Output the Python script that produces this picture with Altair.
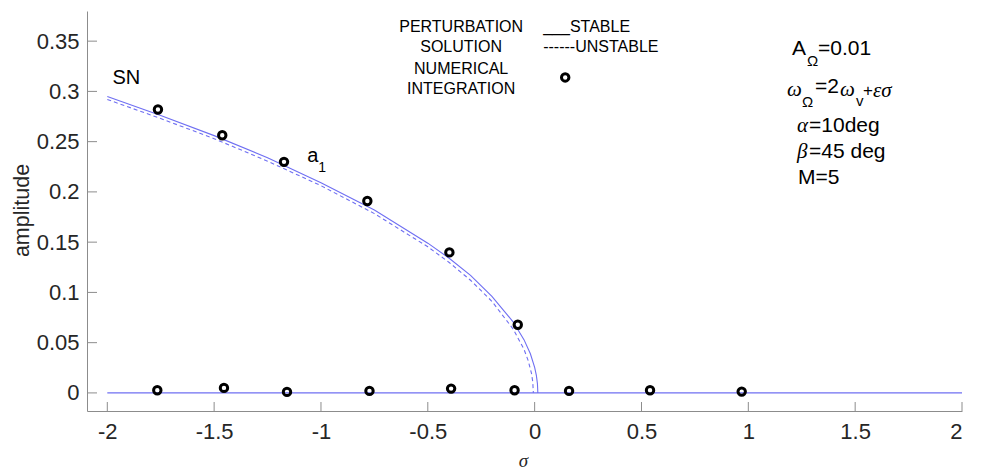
import altair as alt
import pandas as pd

# ---------------- data ----------------
x_ticks = [-2, -1.5, -1, -0.5, 0, 0.5, 1, 1.5, 2]
y_ticks = [0, 0.05, 0.1, 0.15, 0.2, 0.25, 0.3, 0.35]

# perturbation solution, upper branch (stable, solid)
stable_x = [-2.0, -1.75, -1.5, -1.25, -1.0, -0.75, -0.5, -0.4, -0.3, -0.2, -0.1,
            -0.05, -0.02, 0.0, 0.008, 0.013, 0.015]
stable_a = [0.295, 0.276, 0.256, 0.234, 0.209, 0.182, 0.149, 0.134, 0.117, 0.096,
            0.0705, 0.053, 0.039, 0.0254, 0.0174, 0.0093, 0.0]

# perturbation solution, upper branch (unstable, dashed)
unstable_x = [-2.0, -1.75, -1.5, -1.25, -1.0, -0.75, -0.5, -0.4, -0.3, -0.2, -0.1,
              -0.05, -0.03, -0.015, -0.009, -0.006]
unstable_a = [0.292, 0.273, 0.253, 0.2306, 0.2062, 0.1784, 0.1454, 0.1298, 0.1121,
              0.0911, 0.0634, 0.0434, 0.032, 0.0196, 0.0113, 0.0]

# trivial solution (solid)
zero_x = [-2.0, 2.0]
zero_a = [0.0, 0.0]

# numerical integration points
num_x = [-1.763, -1.462, -1.173, -0.783, -0.399, -0.079,
         -1.766, -1.454, -1.159, -0.773, -0.391, -0.094, 0.161, 0.540, 0.969]
num_a = [0.282, 0.2564, 0.2299, 0.191, 0.1398, 0.0678,
         0.0027, 0.005, 0.001, 0.002, 0.0043, 0.0027, 0.002, 0.0027, 0.0013]

# annotations (data coordinates)
sans_left_text = ["SN", "a", "1", "___STABLE", "------UNSTABLE",
                  "A", "Ω", "=0.01", "Ω", "=2", "v", "+",
                  "=10deg", "=45 deg", "M=5"]
sans_left_x = [-1.976, -1.064, -1.013, 0.040, 0.040,
               1.2047, 1.2749, 1.3263, 1.2515, 1.3123, 1.5041, 1.5368,
               1.2842, 1.2842, 1.2327]
sans_left_y = [0.3069, 0.2302, 0.2202, 0.3592, 0.3393,
               0.3358, 0.3248, 0.3358, 0.2840, 0.2989, 0.2850, 0.2959,
               0.2601, 0.2342, 0.2083]
sans_left_size = [20, 20, 14, 16, 16,
                  21, 15, 21, 15, 21, 15, 17,
                  21, 21, 21]

serif_text = ["ω", "ω", "εσ", "α", "β"]
serif_x = [1.1813, 1.4292, 1.5836, 1.2281, 1.2281]
serif_y = [0.2956, 0.2956, 0.2946, 0.2601, 0.2342]

legend_text = ["PERTURBATION", "SOLUTION", "NUMERICAL", "INTEGRATION"]
legend_x = [-0.344, -0.344, -0.344, -0.344]
legend_y = [0.3592, 0.3393, 0.3169, 0.2974]

legend_marker_x = [0.143]
legend_marker_y = [0.3139]

# ---------------- chart ----------------
X_DOMAIN = [-2.095, 2.0]
Y_DOMAIN = [-0.018, 0.38]
W, H = 875, 400
LINE = "#6f6ff2"
AXC = "#8c8c8c"
SANS = "Liberation Sans"
SERIF = "Liberation Serif"

xs = alt.Scale(domain=X_DOMAIN, nice=False, zero=False)
ys = alt.Scale(domain=Y_DOMAIN, nice=False, zero=False)

x_axis = alt.Axis(values=x_ticks, labelExpr="'' + datum.value", tickSize=0,
                  ticks=False, domainColor=AXC, domainWidth=1, grid=False,
                  labelFont=SANS, labelFontSize=22, labelColor="#262626",
                  labelPadding=10, title="σ", titleFont=SERIF,
                  titleFontStyle="italic", titleFontWeight="normal",
                  titleFontSize=19, titleColor="#262626",
                  titleX=436, titleY=55, titleAlign="center",
                  titleBaseline="alphabetic")
y_axis = alt.Axis(values=y_ticks, labelExpr="'' + datum.value", tickSize=0,
                  ticks=False, domainColor=AXC, domainWidth=1, grid=False,
                  labelFont=SANS, labelFontSize=22, labelColor="#262626",
                  labelPadding=8, title="amplitude", titleFont=SANS,
                  titleFontWeight="normal", titleFontSize=21.5,
                  titleColor="#262626", titleAngle=270,
                  titleX=-65, titleY=199, titleAlign="center",
                  titleBaseline="middle")

X = alt.X("x:Q", scale=xs, axis=x_axis)
Y = alt.Y("a:Q", scale=ys, axis=y_axis)

stable_df = pd.DataFrame({"x": stable_x, "a": stable_a})
unstable_df = pd.DataFrame({"x": unstable_x, "a": unstable_a})
zero_df = pd.DataFrame({"x": zero_x, "a": zero_a})
num_df = pd.DataFrame({"x": num_x, "a": num_a})

zero_line = alt.Chart(zero_df).mark_line(color=LINE, strokeWidth=1.1).encode(
    x=X, y=Y,
)
stable_line = alt.Chart(stable_df).mark_line(color=LINE, strokeWidth=1.1).encode(
    x=X, y=Y, order="x:Q",
)
unstable_line = alt.Chart(unstable_df).mark_line(
    color=LINE, strokeWidth=1.1, strokeDash=[4, 3]).encode(
    x=X, y=Y, order="x:Q",
)

x_tick_marks = alt.Chart(pd.DataFrame({"x": x_ticks})).mark_rule(
    color=AXC, strokeWidth=1).encode(
    x=X, y=alt.value(H), y2=alt.value(H - 9),
)
y_tick_marks = alt.Chart(pd.DataFrame({"a": y_ticks})).mark_rule(
    color=AXC, strokeWidth=1).encode(
    y=Y, x=alt.value(0), x2=alt.value(10),
)

points = alt.Chart(num_df).mark_point(
    shape="circle", filled=False, color="black", strokeWidth=3, size=55,
    opacity=1).encode(x=X, y=Y)
legend_point = alt.Chart(pd.DataFrame({"x": legend_marker_x, "a": legend_marker_y})).mark_point(
    shape="circle", filled=False, color="black", strokeWidth=3, size=55,
    opacity=1).encode(x=X, y=Y)

sans_df = pd.DataFrame({"x": sans_left_x, "a": sans_left_y,
                        "t": sans_left_text, "s": sans_left_size})
sans_txt = alt.Chart(sans_df).mark_text(
    font=SANS, align="left", baseline="alphabetic", color="black").encode(
    x=X, y=Y, text="t:N", size=alt.Size("s:Q", scale=None, legend=None),
)
serif_df = pd.DataFrame({"x": serif_x, "a": serif_y, "t": serif_text})
serif_txt = alt.Chart(serif_df).mark_text(
    font=SERIF, fontStyle="italic", fontSize=21, align="left",
    baseline="alphabetic", color="black").encode(
    x=X, y=Y, text="t:N",
)
legend_df = pd.DataFrame({"x": legend_x, "a": legend_y, "t": legend_text})
legend_txt = alt.Chart(legend_df).mark_text(
    font=SANS, fontSize=16, align="center", baseline="alphabetic",
    color="black").encode(
    x=X, y=Y, text="t:N",
)

chart = alt.layer(
    zero_line, stable_line, unstable_line, x_tick_marks, y_tick_marks,
    points, legend_point, sans_txt, serif_txt, legend_txt,
).properties(
    width=W, height=H,
    autosize=alt.AutoSizeParams(type="none"),
    padding={"left": 87, "top": 11, "right": 20, "bottom": 58},
    background="white",
).configure_view(stroke=None)

chart.save("out.html", embed_options={"renderer": "svg", "actions": False})
